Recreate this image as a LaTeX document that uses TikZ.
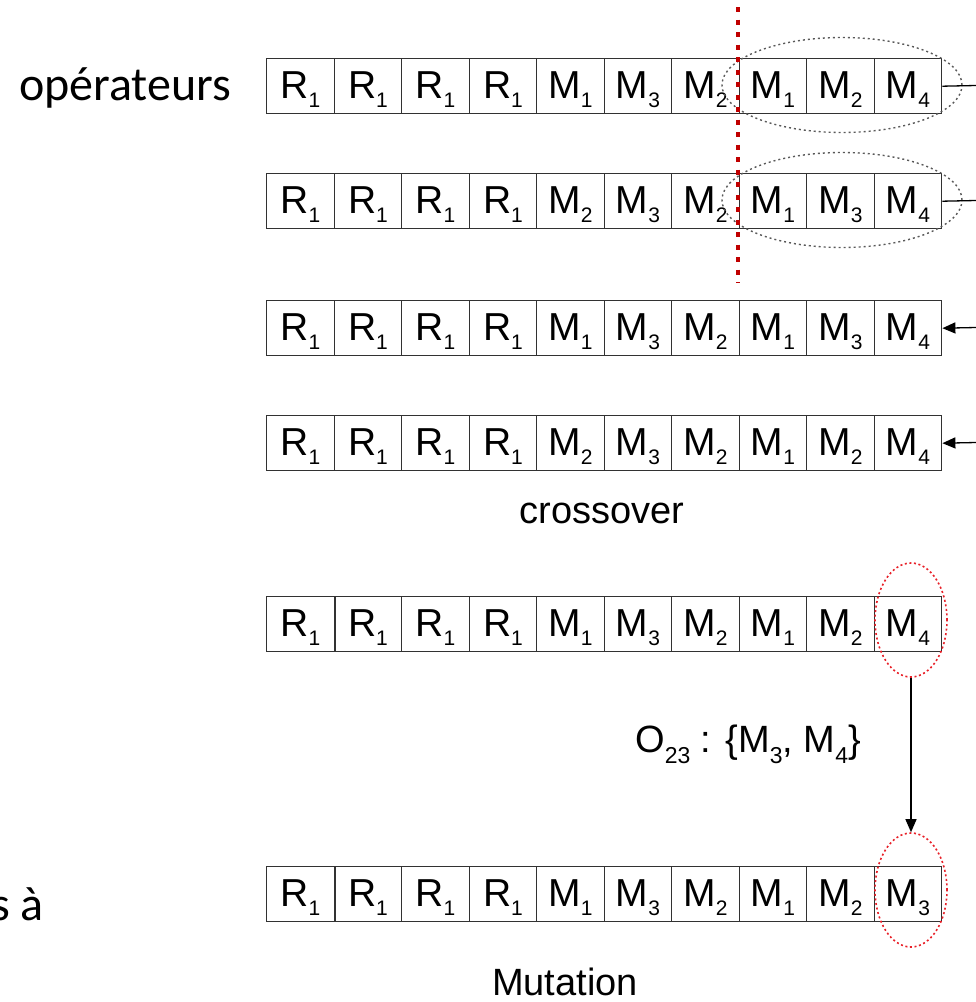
\documentclass[tikz,border=0pt]{standalone}
\usepackage{fontspec}
\setmainfont{Liberation Sans}
\newfontfamily\calib{Carlito}
\usetikzlibrary{shapes.geometric,arrows.meta}

% gene symbol with a lowered index, for cells and for the label
\newcommand{\csub}[2]{#1\raisebox{-9pt}{\fontsize{21}{21}\selectfont #2}}
\newcommand{\lsub}[2]{#1\raisebox{-11pt}{\fontsize{23}{23}\selectfont #2}}

\definecolor{cutred}{RGB}{192,0,0}
\definecolor{mutred}{RGB}{232,32,40}
\definecolor{cellline}{RGB}{50,50,50}

\tikzset{
  cell/.style={draw=cellline, line width=1.4pt, minimum width=67.5pt,
    minimum height=55pt, inner sep=0pt, text height=28pt, text depth=4pt,
    font=\fontsize{39}{39}\selectfont},
  swapzone/.style={ellipse, draw=black!65, line width=1.4pt,
    dash pattern=on 2pt off 3pt, minimum width=240pt, minimum height=95pt,
    inner sep=0pt},
  mutzone/.style={ellipse, draw=mutred, line width=1.6pt,
    dash pattern=on 2pt off 2.6pt, minimum width=72pt, minimum height=114pt,
    inner sep=0pt},
  cutline/.style={draw=cutred, line width=4.5pt, dash pattern=on 5pt off 7.5pt},
  conn/.style={draw=black, line width=1.3pt},
  arr/.style={conn, -{Triangle[length=13pt,width=11pt]}},
  caption/.style={font=\fontsize{38}{38}\selectfont, inner sep=0pt},
  side/.style={font=\calib\fontsize{48}{48}\selectfont, inner sep=0pt}
}

% one chromosome: name, top edge, list of gene/index pairs
\newcommand{\chromrow}[3]{%
  \foreach \g/\s [count=\i] in {#3} {
    \node[cell, anchor=north west] (#1-\i) at ({266+67.5*(\i-1)}, #2) {\csub{\g}{\s}};
  }%
}

\begin{document}
\begin{tikzpicture}[x=1pt, y=-1pt]
\useasboundingbox (0,0) rectangle (976,1002);

% crossover: two parents and two children
\chromrow{pa}{58}{R/1,R/1,R/1,R/1,M/1,M/3,M/2,M/1,M/2,M/4}
\chromrow{pb}{173}{R/1,R/1,R/1,R/1,M/2,M/3,M/2,M/1,M/3,M/4}
\chromrow{ca}{300}{R/1,R/1,R/1,R/1,M/1,M/3,M/2,M/1,M/3,M/4}
\chromrow{cb}{415}{R/1,R/1,R/1,R/1,M/2,M/3,M/2,M/1,M/2,M/4}

% mutation: before and after
\chromrow{mb}{596}{R/1,R/1,R/1,R/1,M/1,M/3,M/2,M/1,M/2,M/4}
\chromrow{ma}{866}{R/1,R/1,R/1,R/1,M/1,M/3,M/2,M/1,M/2,M/3}
\draw[cellline, line width=2.3pt] (mb-1.north east) -- (mb-1.south east);
\draw[cellline, line width=2.3pt] (ma-1.north east) -- (ma-1.south east);

% exchanged segments
\node[swapzone] (za) at (842,85) {};
\node[swapzone] (zb) at (842,200) {};

% cut point
\coordinate (cuttop) at (738,7);
\coordinate (cutbot) at (738,283);
\draw[cutline] (cuttop) -- (cutbot);

% links leaving and entering on the right
\coordinate (pa-out) at (976,85.5);
\coordinate (pb-out) at (976,200.5);
\coordinate (ca-in) at (976,327.5);
\coordinate (cb-in) at (976,442.5);
\draw[conn] (pa-10.east) -- (pa-out);
\draw[conn] (pb-10.east) -- (pb-out);
\draw[arr] (ca-in) -- (ca-10.east);
\draw[arr] (cb-in) -- (cb-10.east);

\node[caption, anchor=base] (xlabel) at (602,523) {crossover};

% mutated gene
\node[mutzone] (ga) at (911,620) {};
\node[mutzone] (gb) at (911,890) {};
\draw[arr] (ga.south) -- (gb.north);
\node[caption, anchor=base west] (oplabel) at (635,752)
  {\lsub{O}{23} : \{\lsub{M}{3}, \lsub{M}{4}\}};

\node[caption, anchor=base] (mlabel) at (565,995) {Mutation};

% side text
\node[side, anchor=base west] (ops) at (19,100) {opérateurs};
\node[side, anchor=base east] (tail) at (44,920) {s à};
\end{tikzpicture}
\end{document}
